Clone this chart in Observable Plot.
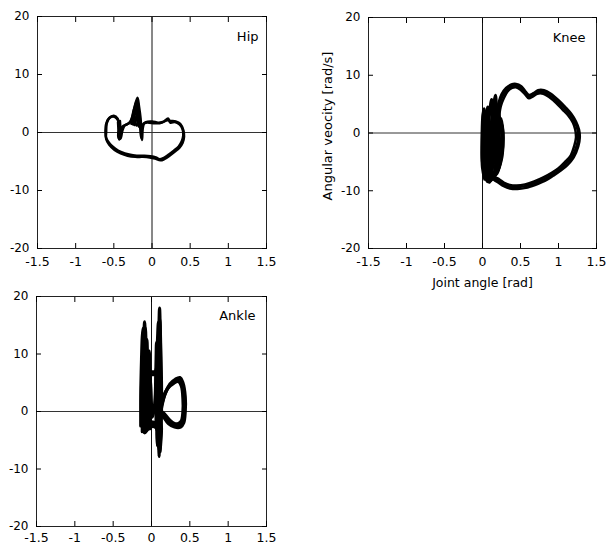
<!DOCTYPE html>
<html><head><meta charset="utf-8">
<script src="https://cdn.jsdelivr.net/npm/d3@7"></script>
<script src="https://cdn.jsdelivr.net/npm/@observablehq/plot@0.6"></script>
<style>
body{margin:0;background:#fff;}
#wrap{position:relative;width:606px;height:545px;font-family:"DejaVu Sans",sans-serif;}
.p{position:absolute;}
</style></head><body><div id="wrap"></div>
<script>
const xTicks = [-1.5, -1, -0.5, 0, 0.5, 1, 1.5];
const yTicks = [-20, -10, 0, 10, 20];
const panelNames = ["Hip", "Knee", "Ankle"];
const xAxisLabel = "Joint angle [rad]";
const yAxisLabel = "Angular veocity [rad/s]";

// Hip (joint angle [rad], angular velocity [rad/s])
const hipCycle1 = [[-0.61,0.0],[-0.60,1.5],[-0.56,2.5],[-0.50,2.9],[-0.45,2.4],[-0.43,1.2],[-0.43,-0.2],[-0.43,-1.2],[-0.41,-0.4],[-0.39,1.0],[-0.33,1.4],[-0.28,1.9],[-0.24,3.8],[-0.19,6.0],[-0.17,4.5],[-0.15,2.5],[-0.14,0.5],[-0.13,-1.3],[-0.12,0.8],[-0.10,1.6],[-0.04,1.7],[0.03,1.6],[0.10,1.6],[0.16,1.9],[0.21,2.4],[0.24,1.7],[0.30,1.8],[0.36,1.4],[0.40,0.6],[0.41,-0.5],[0.39,-1.5],[0.35,-2.4],[0.29,-3.1],[0.22,-3.8],[0.15,-4.4],[0.10,-4.6],[0.05,-4.3],[-0.02,-4.1],[-0.10,-4.0],[-0.20,-4.0],[-0.30,-3.8],[-0.40,-3.4],[-0.48,-2.8],[-0.55,-2.0],[-0.60,-1.0],[-0.61,0.0]];
const hipCycle2 = [[-0.60,0.2],[-0.59,1.7],[-0.55,2.6],[-0.49,2.7],[-0.44,2.0],[-0.42,0.8],[-0.42,-0.8],[-0.41,-1.0],[-0.39,0.2],[-0.36,1.2],[-0.30,1.6],[-0.26,2.6],[-0.23,4.2],[-0.20,5.4],[-0.18,4.0],[-0.16,2.0],[-0.15,0.0],[-0.14,-1.0],[-0.13,1.2],[-0.08,1.8],[0.00,1.9],[0.08,1.7],[0.14,1.8],[0.20,2.1],[0.25,2.0],[0.31,1.9],[0.37,1.5],[0.41,0.4],[0.42,-0.7],[0.40,-1.8],[0.36,-2.6],[0.30,-3.3],[0.23,-4.0],[0.16,-4.6],[0.11,-4.8],[0.04,-4.5],[-0.03,-4.3],[-0.12,-4.2],[-0.22,-4.2],[-0.32,-4.0],[-0.41,-3.6],[-0.49,-3.0],[-0.56,-2.1],[-0.60,-1.1],[-0.60,0.2]];
const hipSpike1 = [[-0.27,1.5],[-0.23,3.5],[-0.20,5.3],[-0.18,3.2],[-0.16,1.2]];
const hipSpike2 = [[-0.25,1.4],[-0.215,3.8],[-0.195,4.8],[-0.18,2.6],[-0.17,1.0]];
const hipSpike3 = [[-0.23,1.3],[-0.205,2.8],[-0.19,3.6],[-0.185,2.0],[-0.20,1.2]];
const hipLeg = [[-0.445,1.8],[-0.44,0.5],[-0.44,-0.9],[-0.42,-1.1],[-0.415,0.6],[-0.42,2.0]];

// Knee
const kneeLoop1 = [[0.19,-1.0],[0.19,1.0],[0.20,3.0],[0.22,4.8],[0.26,6.3],[0.32,7.5],[0.38,8.1],[0.44,8.2],[0.50,7.8],[0.56,7.0],[0.61,6.3],[0.66,6.6],[0.72,7.1],[0.80,7.1],[0.89,6.5],[0.98,5.5],[1.07,4.4],[1.15,3.2],[1.21,2.0],[1.25,0.6],[1.26,-0.8],[1.24,-2.2],[1.18,-4.1],[1.10,-5.3],[1.02,-6.3],[0.92,-7.2],[0.81,-8.0],[0.68,-8.7],[0.56,-9.2],[0.45,-9.4],[0.36,-9.3],[0.28,-8.9],[0.21,-8.3],[0.15,-7.8],[0.10,-7.0]];
const kneeLoop2 = [[0.17,-1.0],[0.17,1.0],[0.18,3.2],[0.21,5.2],[0.25,6.7],[0.31,7.8],[0.38,8.4],[0.44,8.5],[0.51,8.1],[0.56,7.3],[0.61,6.6],[0.67,6.9],[0.73,7.4],[0.81,7.4],[0.90,6.8],[1.00,5.7],[1.09,4.5],[1.17,3.3],[1.23,2.0],[1.27,0.6],[1.28,-0.8],[1.26,-2.3],[1.20,-4.2],[1.12,-5.5],[1.03,-6.5],[0.93,-7.4],[0.82,-8.3],[0.69,-9.0],[0.57,-9.5],[0.46,-9.7],[0.36,-9.6],[0.28,-9.2],[0.21,-8.6],[0.15,-8.1],[0.10,-7.4]];
const kneeLoop3 = [[0.21,-1.0],[0.21,1.0],[0.22,3.0],[0.24,4.6],[0.28,6.0],[0.33,7.2],[0.39,7.8],[0.44,7.9],[0.50,7.5],[0.56,6.7],[0.61,6.0],[0.66,6.3],[0.72,6.8],[0.80,6.8],[0.88,6.2],[0.97,5.2],[1.05,4.1],[1.13,3.0],[1.19,1.8],[1.22,0.6],[1.23,-0.8],[1.21,-2.1],[1.16,-3.9],[1.08,-5.1],[1.00,-6.1],[0.91,-6.9],[0.80,-7.7],[0.68,-8.4],[0.56,-8.9],[0.45,-9.1],[0.36,-9.0],[0.28,-8.6],[0.22,-8.0],[0.16,-7.6],[0.11,-6.8]];
const kneeSwing1 = [[0.05,-8.0],[0.00,-5.0],[0.00,0.0],[0.01,3.0],[0.02,4.2],[0.05,1.0],[0.08,-3.0],[0.09,-6.5],[0.05,-8.0]];
const kneeSwing2 = [[0.06,-8.3],[0.02,-5.0],[0.03,-1.0],[0.05,2.5],[0.07,4.5],[0.09,1.5],[0.12,-2.0],[0.13,-5.5],[0.10,-8.0],[0.06,-8.3]];
const kneeSwing3 = [[0.07,-8.4],[0.04,-5.0],[0.06,-1.0],[0.09,3.0],[0.12,5.8],[0.14,2.5],[0.17,-1.0],[0.18,-4.5],[0.14,-7.5],[0.07,-8.4]];
const kneeSwing4 = [[0.08,-8.2],[0.07,-5.0],[0.09,-1.5],[0.12,2.0],[0.15,5.0],[0.17,6.5],[0.19,3.0],[0.22,0.0],[0.22,-3.5],[0.18,-6.5],[0.11,-8.2],[0.08,-8.2]];
const kneeSwing5 = [[0.10,-7.8],[0.10,-5.0],[0.13,-1.5],[0.17,2.0],[0.20,4.5],[0.22,3.0],[0.25,0.5],[0.26,-2.0],[0.24,-4.5],[0.19,-6.8],[0.13,-7.8],[0.10,-7.8]];
const kneeSwing6 = [[0.09,-7.0],[0.12,-4.0],[0.16,-1.0],[0.20,1.5],[0.24,2.5],[0.27,0.0],[0.27,-2.0],[0.25,-4.5],[0.20,-6.5],[0.12,-7.5]];
const kneeSwing7 = [[0.04,-7.5],[0.01,-3.0],[0.02,1.0],[0.04,3.5],[0.06,0.0],[0.07,-4.0],[0.06,-7.0],[0.04,-7.5]];
const kneeSwing8 = [[0.08,-7.0],[0.09,-3.0],[0.12,0.0],[0.15,1.0],[0.17,-2.0],[0.15,-5.0],[0.10,-7.0]];
const kneeSwing9 = [[0.12,-7.8],[0.14,-4.5],[0.19,-1.5],[0.23,1.0],[0.25,1.5],[0.27,-1.0],[0.25,-4.0],[0.19,-7.0],[0.12,-7.8]];
const kneeSwing10 = [[0.03,-8.0],[0.00,-6.0],[-0.005,-2.0],[0.00,2.0],[0.01,3.8],[0.02,0.0],[0.03,-4.0],[0.03,-8.0]];
const kneeSwing11 = [[0.09,-8.5],[0.06,-6.0],[0.08,-3.0],[0.11,0.0],[0.13,2.0],[0.14,4.5],[0.16,2.0],[0.19,-1.0],[0.20,-4.0],[0.16,-7.2],[0.09,-8.5]];

// Ankle
const ankleCycle1 = [[0.12,0.5],[0.17,2.8],[0.23,4.4],[0.30,5.3],[0.36,5.7],[0.40,4.8],[0.43,2.5],[0.43,0.0],[0.41,-1.8],[0.37,-2.4],[0.30,-2.4],[0.23,-1.8],[0.17,-0.8],[0.13,-0.2],[0.11,-2.5],[0.10,-5.5],[0.10,-7.8],[0.09,-5.0],[0.07,-3.0],[0.02,-2.6],[-0.04,-3.0],[-0.09,-3.7],[-0.12,-2.5],[-0.13,0.0],[-0.13,4.0],[-0.12,9.0],[-0.10,13.0],[-0.09,15.6],[-0.08,12.0],[-0.07,8.0],[-0.05,7.0],[0.00,6.9],[0.05,7.0],[0.08,10.0],[0.095,14.0],[0.105,18.0],[0.115,13.0],[0.12,8.0],[0.125,4.0],[0.12,0.5]];
const ankleCycle2 = [[0.13,0.6],[0.18,3.2],[0.24,4.8],[0.31,5.6],[0.37,5.9],[0.41,5.0],[0.44,2.6],[0.44,0.0],[0.42,-2.0],[0.38,-2.7],[0.30,-2.7],[0.22,-2.1],[0.16,-1.0],[0.12,-0.3],[0.13,-3.0],[0.12,-5.5],[0.11,-7.0],[0.10,-4.5],[0.08,-2.5],[0.03,-2.2],[-0.03,-2.5],[-0.08,-3.2],[-0.10,-2.0],[-0.10,1.0],[-0.10,5.0],[-0.095,9.0],[-0.085,13.0],[-0.08,14.5],[-0.07,11.0],[-0.06,7.5],[-0.03,6.5],[0.02,6.4],[0.06,6.6],[0.07,9.0],[0.08,13.0],[0.09,15.5],[0.10,12.0],[0.10,7.0],[0.10,3.0],[0.09,0.6],[0.13,0.6]];
const ankleCycle3 = [[0.11,0.2],[0.15,2.5],[0.21,4.0],[0.29,4.9],[0.35,5.2],[0.39,4.4],[0.41,2.2],[0.41,0.0],[0.39,-1.6],[0.35,-2.1],[0.30,-2.1],[0.24,-1.5],[0.18,-0.6],[0.13,0.0],[0.08,-1.5],[0.07,-4.0],[0.08,-6.0],[0.07,-3.5],[0.05,-2.0],[0.00,-1.8],[-0.05,-2.0],[-0.06,0.0],[-0.06,3.0],[-0.05,6.0],[-0.04,9.0],[-0.03,10.5],[-0.02,7.0],[-0.01,4.0],[0.00,1.0],[0.01,-1.0],[0.03,0.0],[0.05,3.0],[0.055,6.0],[0.06,9.0],[0.065,12.0],[0.07,10.0],[0.08,6.0],[0.09,3.0],[0.11,0.2]];
const ankleCycle4 = [[-0.12,-3.5],[-0.12,2.0],[-0.11,8.0],[-0.105,12.0],[-0.10,9.0],[-0.08,4.0],[-0.07,-2.0],[-0.05,2.0],[-0.04,7.0],[-0.02,6.0],[-0.01,2.0],[-0.02,-3.0]];
const ankleCycle5 = [[0.06,-2.0],[0.06,4.0],[0.07,8.0],[0.085,11.0],[0.10,9.0],[0.11,4.0],[0.12,-1.0],[0.11,-4.0],[0.10,-6.5]];
const ankleCycle6 = [[-0.14,-2.5],[-0.14,3.0],[-0.13,9.0],[-0.12,13.0],[-0.11,14.5],[-0.10,10.0],[-0.09,5.0],[-0.09,0.0],[-0.08,-3.0]];
const ankleCycle7 = [[-0.06,-3.2],[-0.07,2.0],[-0.07,7.0],[-0.065,11.0],[-0.06,12.5],[-0.05,9.0],[-0.035,5.0],[-0.03,0.0],[-0.03,-3.0]];
const ankleCycle8 = [[0.09,-6.0],[0.08,-2.0],[0.08,3.0],[0.09,8.0],[0.10,13.0],[0.11,16.0],[0.12,11.0],[0.13,5.0],[0.13,0.0],[0.12,-4.0],[0.11,-7.0]];

function rows(cycles) {
  return cycles.flatMap((c, i) => c.map(([x, y]) => ({x, y, cycle: i})));
}

const fmt = d => String(d);
const FONT = '"DejaVu Sans", sans-serif';

function panel({groups, name, width, height, mt, mr, mb, ml, xPad = 14, nameDx, nameDy, xLabel = null, yLabel = null}) {
  const marks = [
    Plot.ruleX([0], {stroke: "#111", strokeWidth: 1}),
    Plot.ruleY([0], {stroke: "#333", strokeWidth: 1}),
    ...groups.map(g => Plot.line(rows(g.cycles), {x: "x", y: "y", z: "cycle", stroke: "#000", strokeWidth: g.sw, curve: "catmull-rom", strokeLinejoin: "round", strokeLinecap: "round"})),
    Plot.frame({stroke: "#222"}),
    Plot.axisX(xTicks, {anchor: "bottom", tickSize: -5, tickPadding: xPad, tickFormat: fmt, label: xLabel, labelAnchor: "center", labelOffset: 38, labelArrow: "none", fontSize: 12.5}),
    Plot.axisX(xTicks, {anchor: "top", tickSize: -5, tickFormat: () => "", label: null}),
    Plot.axisY(yTicks, {anchor: "left", tickSize: -5, tickPadding: 13, tickFormat: fmt, label: null, fontSize: 12}),
    Plot.axisY(yTicks, {anchor: "right", tickSize: -5, tickFormat: () => "", label: null}),
    Plot.text([name], {frameAnchor: "top-right", textAnchor: "end", lineAnchor: "middle", dx: nameDx, dy: nameDy, fontSize: 13, fill: "#000"})
  ];
  if (yLabel) marks.push(Plot.text([yLabel], {frameAnchor: "left", rotate: -90, textAnchor: "middle", lineAnchor: "middle", dx: -41, dy: -7, fontSize: 13, fill: "#000"}));
  return Plot.plot({
    width, height,
    marginTop: mt, marginRight: mr, marginBottom: mb, marginLeft: ml,
    style: {fontFamily: FONT, fontSize: "12px", color: "#000", background: "transparent"},
    x: {domain: [-1.5, 1.5]},
    y: {domain: [-20, 20]},
    marks
  });
}

const wrap = document.getElementById("wrap");
function place(el, left, top) {
  const d = document.createElement("div");
  d.className = "p";
  d.style.left = left + "px";
  d.style.top = top + "px";
  d.appendChild(el);
  wrap.appendChild(d);
}

place(panel({groups: [{cycles: [hipCycle1, hipCycle2], sw: 2.5}, {cycles: [hipSpike1, hipSpike2, hipSpike3, hipLeg], sw: 2.5}], name: panelNames[0], width: 300, height: 280, mt: 16, mr: 34, mb: 32, ml: 37, nameDx: -8, nameDy: 20}), 0, 0);
place(panel({groups: [{cycles: [kneeLoop1, kneeLoop2, kneeLoop3], sw: 2.5}, {cycles: [kneeSwing1, kneeSwing2, kneeSwing3, kneeSwing4, kneeSwing5, kneeSwing6, kneeSwing7, kneeSwing8, kneeSwing9, kneeSwing10, kneeSwing11], sw: 3.2}], name: panelNames[1], width: 306, height: 295, mt: 17, mr: 10, mb: 47, ml: 68, nameDx: -11, nameDy: 20, xLabel: xAxisLabel, yLabel: yAxisLabel}), 300, 0);
place(panel({groups: [{cycles: [ankleCycle1, ankleCycle2, ankleCycle3, ankleCycle4, ankleCycle5, ankleCycle6, ankleCycle7, ankleCycle8], sw: 3.2}], name: panelNames[2], width: 300, height: 265, mt: 16, mr: 34, mb: 19, ml: 36, xPad: 12, nameDx: -11, nameDy: 19}), 0, 280);
</script></body></html>
